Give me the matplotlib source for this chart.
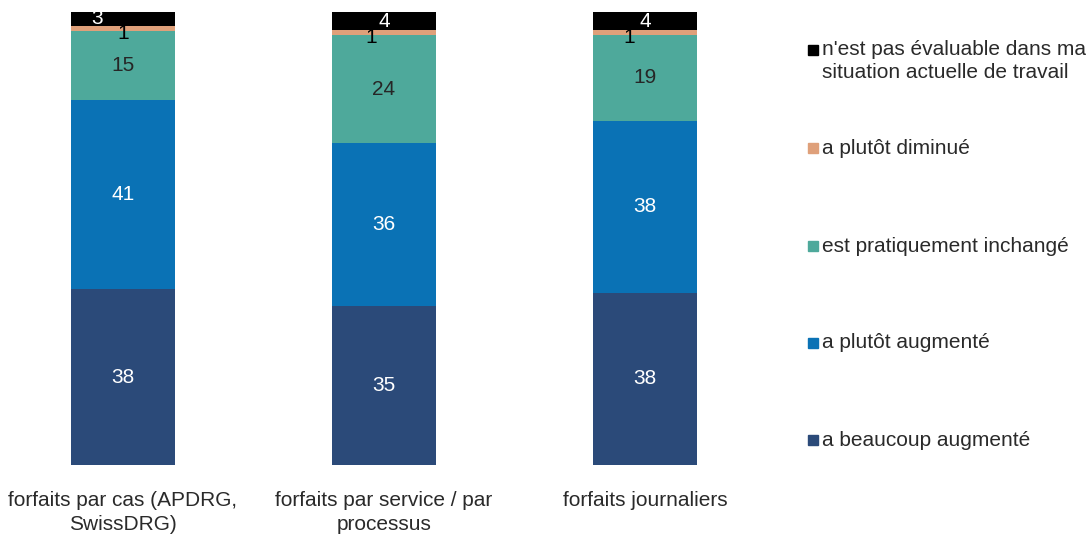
import matplotlib
matplotlib.use("Agg")
import matplotlib.pyplot as plt
import numpy as np
from matplotlib.patches import Rectangle

plt.rcParams['font.family'] = ['Liberation Sans', 'DejaVu Sans']

categories = ['forfaits par cas (APDRG,\nSwissDRG)',
              'forfaits par service / par\nprocessus',
              'forfaits journaliers']

series_names = ['a beaucoup augmenté',
                'a plutôt augmenté',
                'est pratiquement inchangé',
                'a plutôt diminué',
                "n'est pas évaluable dans ma\nsituation actuelle de travail"]

beaucoup_augmente = [38, 35, 38]
plutot_augmente = [41, 36, 38]
inchange = [15, 24, 19]
plutot_diminue = [1, 1, 1]
non_evaluable = [3, 4, 4]

colors = ['#2B4A79', '#0A72B5', '#4EA99B', '#DFA07A', '#000000']
label_colors = ['white', 'white', '#262626', 'black', 'white']
text_color = '#2a2a2a'
fs = 15

values = np.array([beaucoup_augmente, plutot_augmente, inchange,
                   plutot_diminue, non_evaluable], dtype=float)
# 100% stacked: each bar is scaled to its own total
shares = values / values.sum(axis=0) * 100

fig = plt.figure(figsize=(10.88, 5.34), dpi=100)
ax = fig.add_axes([0, 0.1292, 768 / 1088, 0.8483])

x = np.arange(len(categories))
width = 0.398
bottom = np.zeros(len(categories))
# small sideways shifts so the thin-segment labels don't sit on each other
label_dx = {3: [0, -0.05, -0.06], 4: [-0.1, 0, 0]}
label_dy = {3: -1.2}
for i, name in enumerate(series_names):
    ax.bar(x, shares[i], width, bottom=bottom, color=colors[i], label=name)
    for j in range(len(categories)):
        dx = label_dx.get(i, [0, 0, 0])[j]
        dy = label_dy.get(i, 0)
        ax.text(x[j] + dx, bottom[j] + shares[i][j] / 2 + dy, f"{int(values[i][j])}",
                ha='center', va='center', fontsize=fs, color=label_colors[i])
    bottom += shares[i]

ax.set_xlim(-0.471, 2.471)
ax.set_ylim(0, 100)
ax.set_xticks(x)
ax.set_xticklabels(categories, fontsize=fs, linespacing=1.3, color=text_color)
ax.tick_params(axis='x', length=0, pad=19)
ax.set_yticks([])
for s in ax.spines.values():
    s.set_visible(False)

# legend drawn by hand, top entry first
H = 534.0
legend_y = [61, 148, 246, 343, 440]
for k, i in enumerate(reversed(range(len(series_names)))):
    yc = legend_y[k]
    nlines = series_names[i].count('\n') + 1
    sq_y = yc - (nlines - 1) * 11
    fig.patches.append(Rectangle((808 / 1088, (H - sq_y - 5) / H), 10 / 1088, 10 / H,
                                 transform=fig.transFigure, color=colors[i]))
    fig.text(822 / 1088, (H - yc) / H, series_names[i], fontsize=fs,
             ha='left', va='center', linespacing=1.25, color=text_color)

fig.savefig('out.png', dpi=100)
